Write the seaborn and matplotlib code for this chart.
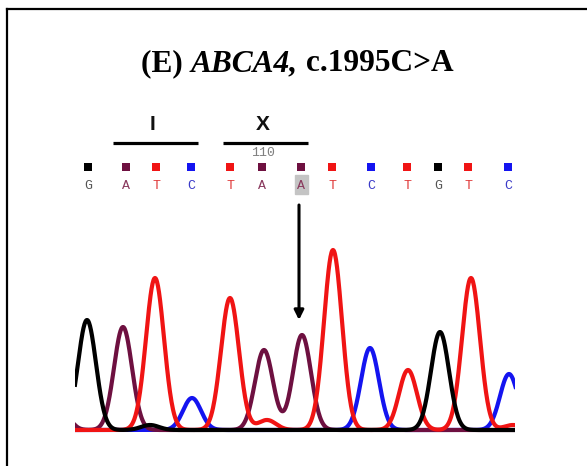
import numpy as np
import pandas as pd
import matplotlib
matplotlib.use("Agg")
import matplotlib.pyplot as plt
from matplotlib.patches import Rectangle
import seaborn as sns

# ---- data ----
bases = ["G", "A", "T", "C", "T", "A", "A", "T", "C", "T", "G", "T", "C"]
base_pos = [88, 126, 156, 191, 230, 262, 301, 332, 371, 407, 438, 468, 508]
mutant_index = 6
position_label = "110"
position_label_x = 263

peak_channel = ["G", "A", "T", "C", "T", "A", "A", "T", "C", "T", "G", "T", "C", "T", "G", "A", "T"]
peak_center = [87, 123, 155, 192, 230, 264, 302, 333, 370, 408, 440, 471, 509, 267, 150, 58, 513]
peak_height = [110, 103, 152, 32, 132, 80, 95, 180, 82, 60, 98, 152, 56, 10, 5, 30, 5]
peak_sigma = 9.0

codons = ["I", "X"]
codon_start = [113, 223]
codon_end = [198, 308]

title_parts = ["(E) ", "ABCA4,", " c.1995C>A"]
title_styles = ["normal", "italic", "normal"]

channel_colors = {"G": "#000000", "A": "#6e1040", "T": "#f01414", "C": "#1414f0"}
letter_colors = {"G": "#555555", "A": "#8a3a5e", "T": "#e03a3a", "C": "#3a3ac8"}

# ---- build traces ----
xs = np.arange(75, 516, 0.5)
rows = []
for ch in ["C", "A", "T", "G"]:
    y = np.zeros_like(xs)
    for c, h, cc in zip(peak_channel, peak_height, peak_center):
        if c == ch:
            y += h * np.exp(-(xs - cc) ** 2 / (2 * peak_sigma ** 2))
    rows.append(pd.DataFrame({"scan": xs, "signal": y, "channel": ch}))
df = pd.concat(rows, ignore_index=True)

W, H = 587, 466
fig = plt.figure(figsize=(W / 100, H / 100), dpi=100)
fig.patch.set_facecolor("white")

# trace axes (baseline at pixel y=430)
axt = fig.add_axes([75 / W, (H - 434) / H, 440 / W, 204 / H])
sns.lineplot(data=df, x="scan", y="signal", hue="channel", palette=channel_colors,
             hue_order=["C", "A", "T", "G"], linewidth=3.0, legend=False, ax=axt,
             sort=False)
axt.set_xlim(75, 515)
axt.set_ylim(-4, 200)
axt.axis("off")

# overlay axes in pixel coordinates
ax0 = fig.add_axes([0, 0, 1, 1], zorder=5)
ax0.set_xlim(0, W)
ax0.set_ylim(H, 0)
ax0.axis("off")
ax0.patch.set_alpha(0)

# border (top and left visible)
ax0.plot([7, 7], [H + 5, 9], color="black", lw=1.6, clip_on=False, solid_capstyle="projecting")
ax0.plot([7, W + 5], [9, 9], color="black", lw=1.6, clip_on=False, solid_capstyle="projecting")

# title, centred as pieces, scaled to the reference width
renderer = fig.canvas.get_renderer()
fs = 18.5
target_width = 313
texts = []
for part, st in zip(title_parts, title_styles):
    t = ax0.text(0, 71, part, fontsize=fs, fontweight="bold", fontstyle=st,
                 family="Liberation Serif", va="baseline", ha="left")
    texts.append(t)
total = sum(t.get_window_extent(renderer).width for t in texts)
fs2 = fs * target_width / total
for t in texts:
    t.set_fontsize(fs2)
widths = [t.get_window_extent(renderer).width for t in texts]
total = sum(widths)
x = 297.5 - total / 2
for t, w in zip(texts, widths):
    t.set_x(x)
    x += w

# codon labels and bars
for lab, s, e in zip(codons, codon_start, codon_end):
    ax0.text((s + e) / 2 - 3, 124, lab, fontsize=15, family="Liberation Sans",
             fontweight="bold", ha="center", va="center", color="#111111")
    ax0.plot([s, e], [143, 143], color="black", lw=2.3, solid_capstyle="butt")

ax0.text(position_label_x, 153, position_label, fontsize=9.5, family="Liberation Mono",
         ha="center", va="center", color="#808080")

# highlight of the mutant base
mx = base_pos[mutant_index]
ax0.add_patch(Rectangle((mx - 6.5, 175), 13, 19, color="#c4c4c4", zorder=1))

# base calls
for b, p in zip(bases, base_pos):
    ax0.scatter([p], [167], marker="s", s=28, color=channel_colors[b], zorder=2, linewidths=0)
    ax0.text(p, 186, b, fontsize=9.5, family="Liberation Mono", ha="center",
             va="center", color=letter_colors[b], zorder=3)

# arrow
ax0.annotate("", xy=(mx - 2, 320), xytext=(mx - 2, 205),
             arrowprops=dict(arrowstyle="-|>", lw=2.2, color="black", mutation_scale=14,
                             shrinkA=0, shrinkB=0))

fig.savefig("out.png", dpi=100)
